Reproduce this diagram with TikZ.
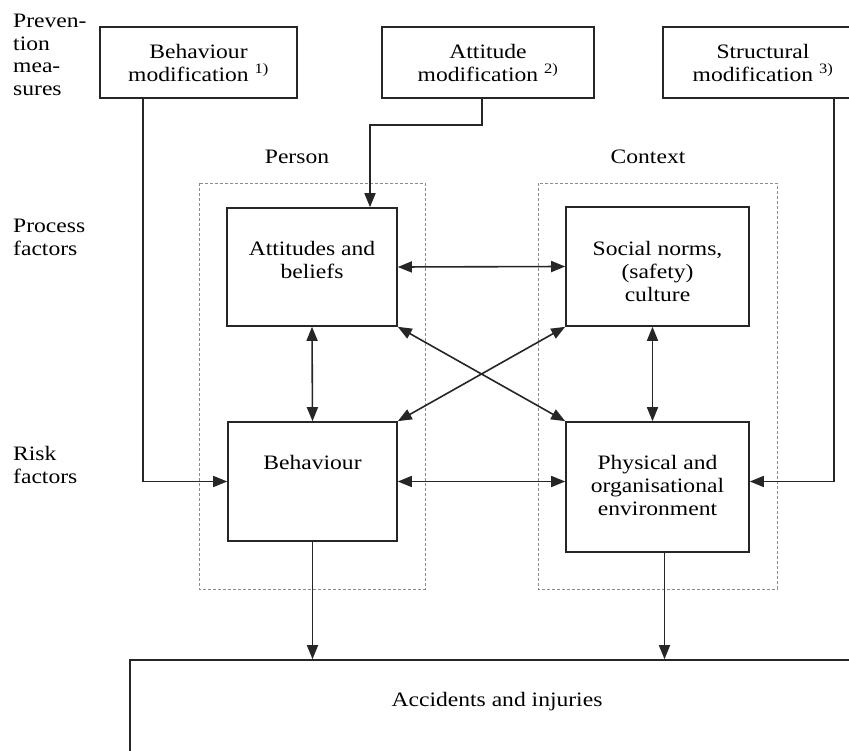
\documentclass[tikz,border=0pt]{standalone}
\usepackage{fontspec}
\setmainfont{Liberation Serif}[FakeStretch=1.15]
\usetikzlibrary{arrows.meta}
\usetikzlibrary{positioning}
\tikzset{box/.style = {draw, line width = 1.6pt, black!85, text = black, align = center, inner sep = 0}}
\tikzset{txt/.style = {align = center, inner sep = 0, font = \fontsize{20.5}{23}\selectfont}}
\tikzset{dashbox/.style = {densely dashed, black!45, line width = 0.8pt}}
\tikzset{tip/.tip = {Triangle[length=14pt,width=11pt]}}
\tikzset{arr/.style = {-tip, line width = 1.6pt, black!85}}
\tikzset{darr/.style = {tip-tip, line width = 1.6pt, black!85}}

\begin{document}
\begin{tikzpicture}[x = 1pt, y = -1pt]
        \useasboundingbox [fill = white] (0,0) rectangle (849,751);
        % left column labels
        \node[txt, align = left, anchor = north west, font = \fontsize{20.5}{22.5}\selectfont] (PreventionLabel) at (13,14) {Preven-\\tion\\mea-\\sures};
        \node[txt, align = left, anchor = west] (ProcessLabel) at (13,237) {Process\\factors};
        \node[txt, align = left, anchor = west] (RiskLabel) at (13,465) {Risk\\factors};
        % prevention measures
        \node[box, txt, draw, minimum width = 197, minimum height = 71] (BehaviourMod) at (198.5,62.5) {Behaviour\\modification \textsuperscript{1)}};
        \node[box, txt, draw, minimum width = 212, minimum height = 71] (AttitudeMod) at (488,62.5) {Attitude\\modification \textsuperscript{2)}};
        \node[box, txt, draw, minimum width = 200, minimum height = 71] (StructuralMod) at (763,62.5) {Structural\\modification \textsuperscript{3)}};
        % person and context
        \draw[dashbox] (199,183) rectangle (425,589);
        \draw[dashbox] (538,183) rectangle (777,589);
        \node[txt] (Person) at (297,157) {Person};
        \node[txt] (Context) at (648,157) {Context};
        \node[box, minimum width = 170, minimum height = 118] (Attitudes) at (312,267) {};
        \node[box, minimum width = 183, minimum height = 119] (SocialNorms) at (657.5,266.5) {};
        \node[box, minimum width = 169, minimum height = 119] (Behaviour) at (312.5,481.5) {};
        \node[box, minimum width = 183, minimum height = 130] (Environment) at (657.5,487) {};
        \node[txt] (AttitudesText) at ([yshift = -52.5]Attitudes.north) {Attitudes and\\beliefs};
        \node[txt] (SocialNormsText) at ([yshift = -65]SocialNorms.north) {Social norms,\\(safety)\\culture};
        \node[txt] (BehaviourText) at ([yshift = -41]Behaviour.north) {Behaviour};
        \node[txt] (EnvironmentText) at ([yshift = -64]Environment.north) {Physical and\\organisational\\environment};
        % outcome
        \node[box, minimum width = 734, minimum height = 110] (AccidentsBox) at (497,715) {};
        \node[txt] (Accidents) at (497,702) {Accidents and injuries};
        % connectors
        \coordinate (BehaviourFeed) at (143,0);
        \coordinate (AttitudeBend) at (370,125);
        \coordinate (StructuralFeed) at (834,0);
        \draw[arr] (BehaviourMod.south -| BehaviourFeed) |- (Behaviour.west);
        \draw[arr] ([xshift = -6]AttitudeMod.south) |- (AttitudeBend) -- (AttitudeBend |- Attitudes.north);
        \draw[arr] (StructuralMod.south -| StructuralFeed) |- (Environment.east |- Behaviour.east);
        \draw[darr] (Attitudes.east) -- (SocialNorms.west);
        \draw[darr] (Attitudes.south) -- (Behaviour.north);
        \draw[darr] ([xshift = -5]SocialNorms.south) -- ([xshift = -5]Environment.north);
        \draw[darr] (Attitudes.south east) -- (Environment.north west);
        \draw[darr] (SocialNorms.south west) -- (Behaviour.north east);
        \draw[darr] (Behaviour.east) -- (Behaviour.east -| Environment.west);
        \draw[arr] (Behaviour.south) -- (Behaviour.south |- AccidentsBox.north);
        \draw[arr] ([xshift = 7]Environment.south) -- ([xshift = 7]Environment.south |- AccidentsBox.north);
    \end{tikzpicture}
\end{document}
